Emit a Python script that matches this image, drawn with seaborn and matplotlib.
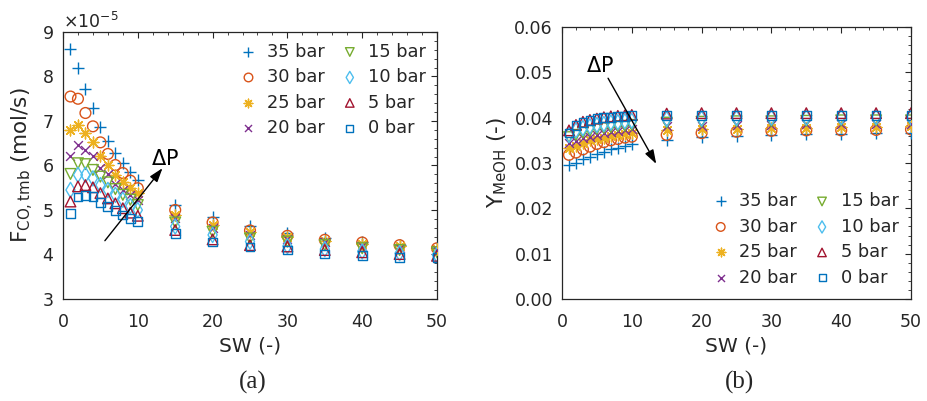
import numpy as np
import pandas as pd
import matplotlib
matplotlib.use("Agg")
import matplotlib.pyplot as plt
import seaborn as sns
from matplotlib.ticker import MultipleLocator, ScalarFormatter, FormatStrFormatter

sns.set_theme(style="white")
plt.rcParams['font.family'] = ['DejaVu Sans']
plt.rcParams['mathtext.fontset'] = 'dejavusans'

sw = [1, 2, 3, 4, 5, 6, 7, 8, 9, 10, 15, 20, 25, 30, 35, 40, 45, 50]
pressures = ["35 bar", "30 bar", "25 bar", "20 bar", "15 bar", "10 bar", "5 bar", "0 bar"]

# F_CO,tmb (x 1e-5 mol/s)
f_35 = [8.62, 8.20, 7.72, 7.29, 6.86, 6.54, 6.28, 6.05, 5.86, 5.68, 5.11, 4.85, 4.64, 4.48, 4.36, 4.29, 4.21, 4.15]
f_30 = [7.55, 7.50, 7.18, 6.88, 6.52, 6.26, 6.01, 5.83, 5.66, 5.49, 5.00, 4.72, 4.54, 4.42, 4.33, 4.27, 4.21, 4.14]
f_25 = [6.79, 6.92, 6.73, 6.52, 6.22, 6.00, 5.79, 5.64, 5.50, 5.38, 4.89, 4.66, 4.51, 4.39, 4.31, 4.24, 4.18, 4.12]
f_20 = [6.22, 6.46, 6.35, 6.22, 5.95, 5.80, 5.59, 5.45, 5.34, 5.23, 4.81, 4.60, 4.44, 4.34, 4.27, 4.19, 4.14, 4.09]
f_15 = [5.81, 6.05, 6.03, 5.90, 5.75, 5.62, 5.47, 5.34, 5.23, 5.11, 4.72, 4.51, 4.36, 4.29, 4.21, 4.14, 4.10, 4.05]
f_10 = [5.45, 5.79, 5.79, 5.71, 5.56, 5.45, 5.34, 5.23, 5.09, 5.00, 4.63, 4.44, 4.29, 4.19, 4.12, 4.07, 4.03, 3.99]
f_5 = [5.19, 5.53, 5.56, 5.51, 5.38, 5.26, 5.15, 5.04, 4.94, 4.87, 4.55, 4.34, 4.21, 4.18, 4.10, 4.05, 4.01, 3.97]
f_0 = [4.93, 5.29, 5.33, 5.30, 5.17, 5.08, 4.99, 4.89, 4.81, 4.75, 4.48, 4.28, 4.17, 4.10, 4.01, 3.97, 3.94, 3.93]

# Y_MeOH (-)
y_35 = [0.0296, 0.0301, 0.0308, 0.0314, 0.0320, 0.0325, 0.0330, 0.0334, 0.0338, 0.0342, 0.0351, 0.0357, 0.0360, 0.0362, 0.0364, 0.0364, 0.0366, 0.0367]
y_30 = [0.0318, 0.0323, 0.0330, 0.0336, 0.0342, 0.0346, 0.0350, 0.0353, 0.0356, 0.0358, 0.0362, 0.0366, 0.0369, 0.0371, 0.0372, 0.0372, 0.0373, 0.0374]
y_25 = [0.0333, 0.0338, 0.0344, 0.0350, 0.0353, 0.0356, 0.0360, 0.0362, 0.0364, 0.0366, 0.0372, 0.0375, 0.0376, 0.0378, 0.0378, 0.0379, 0.0380, 0.0381]
y_20 = [0.0344, 0.0349, 0.0355, 0.0358, 0.0362, 0.0366, 0.0369, 0.0371, 0.0373, 0.0375, 0.0381, 0.0382, 0.0384, 0.0384, 0.0385, 0.0386, 0.0386, 0.0386]
y_15 = [0.0357, 0.0362, 0.0367, 0.0371, 0.0375, 0.0377, 0.0379, 0.0381, 0.0382, 0.0384, 0.0389, 0.0391, 0.0392, 0.0392, 0.0393, 0.0394, 0.0394, 0.0394]
y_10 = [0.0362, 0.0372, 0.0377, 0.0381, 0.0384, 0.0386, 0.0389, 0.0390, 0.0392, 0.0393, 0.0397, 0.0398, 0.0399, 0.0400, 0.0400, 0.0401, 0.0401, 0.0401]
y_5 = [0.0372, 0.0384, 0.0391, 0.0395, 0.0398, 0.0401, 0.0403, 0.0404, 0.0405, 0.0406, 0.0409, 0.0410, 0.0410, 0.0410, 0.0410, 0.0410, 0.0410, 0.0410]
y_0 = [0.0366, 0.0382, 0.0389, 0.0394, 0.0398, 0.0400, 0.0401, 0.0403, 0.0403, 0.0404, 0.0405, 0.0405, 0.0405, 0.0405, 0.0405, 0.0405, 0.0405, 0.0405]

f_series = [f_35, f_30, f_25, f_20, f_15, f_10, f_5, f_0]
y_series = [y_35, y_30, y_25, y_20, y_15, y_10, y_5, y_0]

colors = ["#0072BD", "#D95319", "#EDB120", "#7E2F8E", "#77AC30", "#4DBEEE", "#A2142F", "#0072BD"]
markers = ["+", "o", (8, 2, 0), "x", "v", "d", "^", "s"]
sizes = [85, 60, 60, 40, 60, 60, 58, 40]
open_marker = [False, True, False, False, True, True, True, True]

fig = plt.figure(figsize=(9.28, 4.01), dpi=100)
ax1 = fig.add_axes([63/928, 1-299/401, (437-63)/928, (299-32)/401])
ax2 = fig.add_axes([562/928, 1-299/401, (911-562)/928, (299-27)/401])

def draw(ax, series, scale):
    for lab, vals, c, m, s, op in zip(pressures, series, colors, markers, sizes, open_marker):
        df = pd.DataFrame({"SW": sw, "v": np.array(vals) * scale})
        if op:
            sns.scatterplot(data=df, x="SW", y="v", ax=ax, marker=m, s=s,
                            facecolor="none", edgecolor=c, linewidth=1.0, label=lab, zorder=3)
        else:
            sns.scatterplot(data=df, x="SW", y="v", ax=ax, marker=m, s=s,
                            color=c, linewidth=1.0, label=lab, zorder=3)

draw(ax1, f_series, 1e-5)
draw(ax2, y_series, 1.0)

tick_col = "#262626"
for ax in (ax1, ax2):
    ax.set_xlim(0, 50)
    ax.xaxis.set_major_locator(MultipleLocator(10))
    ax.xaxis.set_minor_locator(MultipleLocator(2))
    ax.tick_params(which="both", direction="in", top=True, right=True, colors=tick_col,
                   labelcolor="#262626", labelsize=12.5)
    ax.tick_params(which="major", length=4, width=0.8)
    ax.tick_params(which="minor", length=2, width=0.6)
    ax.tick_params(axis="x", which="major", pad=10)
    ax.tick_params(axis="y", which="major", pad=6.5)
    for sp in ax.spines.values():
        sp.set_color(tick_col)
        sp.set_linewidth(0.9)
    ax.set_xlabel("SW (-)", fontsize=14.5, color="#262626", labelpad=4)

ax1.set_ylim(3e-5, 9e-5)
ax1.yaxis.set_major_locator(MultipleLocator(1e-5))
ax1.yaxis.set_minor_locator(MultipleLocator(0.2e-5))
fmt = ScalarFormatter(useMathText=True)
fmt.set_powerlimits((-3, 3))
ax1.yaxis.set_major_formatter(fmt)
ax1.yaxis.get_offset_text().set_fontsize(12.5)
ax1.yaxis.get_offset_text().set_color("#262626")
ax1.set_ylabel(r"F$_{\mathregular{CO,tmb}}$ (mol/s)", fontsize=15.5, color="#262626", labelpad=4)

ax2.set_ylim(0, 0.06)
ax2.yaxis.set_major_locator(MultipleLocator(0.01))
ax2.yaxis.set_minor_locator(MultipleLocator(0.002))
ax2.yaxis.set_major_formatter(FormatStrFormatter("%.2f"))
ax2.set_ylabel(r"Y$_{\mathregular{MeOH}}$ (-)", fontsize=15.5, color="#262626", labelpad=4)

leg_kw = dict(ncol=2, frameon=False, fontsize=12.8, handletextpad=0.55, columnspacing=0.9,
              labelspacing=0.42, handlelength=1.0, markerscale=0.8)
ax1.legend(loc="upper right", borderaxespad=0.2, **leg_kw)
ax2.legend(loc="lower right", borderaxespad=0.3, **leg_kw)

arrow_kw = dict(arrowstyle="-|>,head_length=0.6,head_width=0.2", color="black", lw=1.0,
                mutation_scale=14, shrinkA=0, shrinkB=0)
ax1.annotate("", xy=(13.3, 5.94e-5), xytext=(5.6, 4.31e-5), arrowprops=arrow_kw)
ax1.text(13.6, 6.15e-5, r"$\Delta$P", fontsize=15, ha="center", va="center", color="black")
ax2.annotate("", xy=(13.5, 0.0298), xytext=(6.6, 0.0487), arrowprops=arrow_kw)
ax2.text(5.4, 0.0513, r"$\Delta$P", fontsize=15, ha="center", va="center", color="black")

fig.text(253/928, 1-382/401, "(a)", fontsize=18, ha="center", va="center",
         family=["Liberation Serif", "DejaVu Serif"], color="#262626")
fig.text(740/928, 1-382/401, "(b)", fontsize=18, ha="center", va="center",
         family=["Liberation Serif", "DejaVu Serif"], color="#262626")

fig.savefig("out.png", dpi=100)
